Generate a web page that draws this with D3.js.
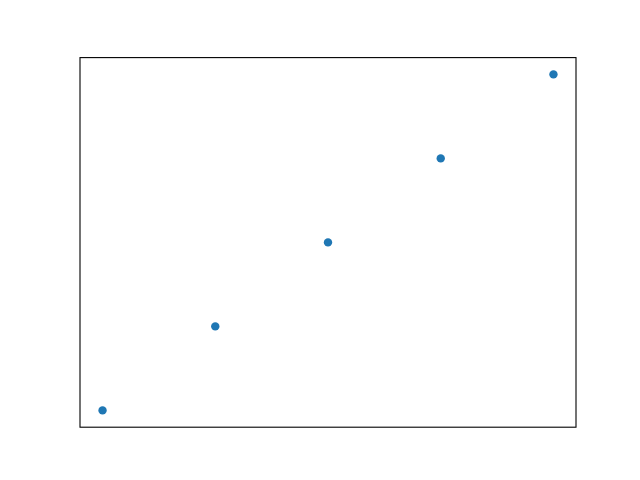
<!DOCTYPE html>
<html>
<head>
<meta charset="utf-8">
<script src="https://cdn.jsdelivr.net/npm/d3@7"></script>
<style>
  html, body { margin: 0; padding: 0; background: #fff; }
  svg { display: block; }
</style>
</head>
<body>
<div id="chart"></div>
<script>
// data (evenly spaced diagonal)
const xValues = [1, 2, 3, 4, 5];
const yValues = [1, 2, 3, 4, 5];

const width = 640;
const height = 480;
// matplotlib default subplot box
const margin = { left: 80, right: 576, top: 57.6, bottom: 427.2 };

// 5% margins around the data range, like matplotlib autoscale
const pad = (ext) => {
  const m = (ext[1] - ext[0]) * 0.05;
  return [ext[0] - m, ext[1] + m];
};

const x = d3.scaleLinear().domain(pad(d3.extent(xValues))).range([margin.left, margin.right]);
const y = d3.scaleLinear().domain(pad(d3.extent(yValues))).range([margin.bottom, margin.top]);

const svg = d3.select('#chart')
  .append('svg')
  .attr('width', width)
  .attr('height', height);

svg.append('rect')
  .attr('width', width).attr('height', height)
  .attr('fill', '#fff');

const points = xValues.map((v, i) => ({ x: v, y: yValues[i] }));

svg.append('g')
  .selectAll('circle')
  .data(points)
  .join('circle')
  .attr('cx', d => x(d.x))
  .attr('cy', d => y(d.y))
  .attr('r', 4.2)
  .attr('fill', '#1f77b4');

// axes frame, no ticks
svg.append('rect')
  .attr('x', margin.left).attr('y', margin.top)
  .attr('width', margin.right - margin.left).attr('height', margin.bottom - margin.top)
  .attr('fill', 'none')
  .attr('stroke', '#000')
  .attr('stroke-width', 1.1);
</script>
</body>
</html>
